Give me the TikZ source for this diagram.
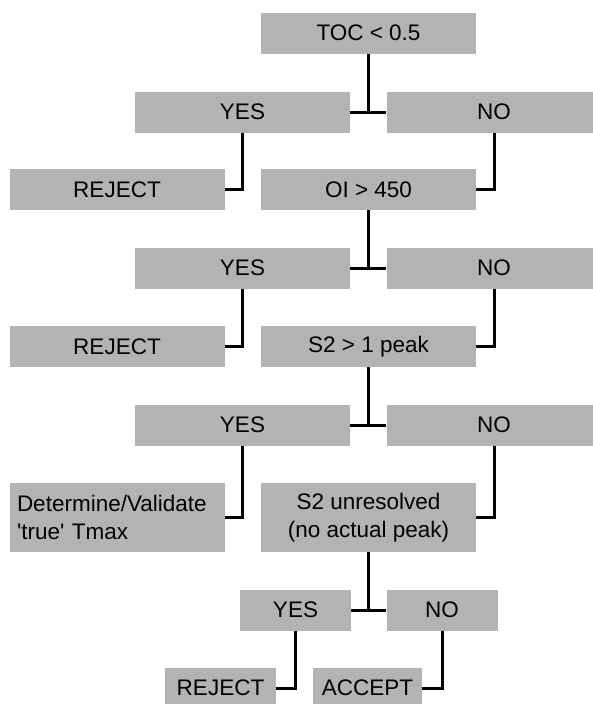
\documentclass[tikz,border=0pt]{standalone}
\usepackage{fontspec}
\setmainfont{Liberation Sans}
\definecolor{boxgray}{RGB}{179,179,179}
\begin{document}
\begin{tikzpicture}[x=1pt, y=-1pt,
  box/.style={fill=boxgray, inner sep=0pt, minimum height=41pt,
              font=\fontsize{22.5}{27.5}\selectfont},
  wide/.style={box, minimum width=215pt},
  narrow/.style={box, minimum width=111pt},
  link/.style={line width=3pt}]
\useasboundingbox (0,0) rectangle (593,704);

% decision boxes
\node[wide] (toc)  at (368.5,33)    {TOC < 0.5};
\node[wide] (yes1) at (242.5,112)   {YES};
\node[wide] (no1)  at (494,112)     {NO};
\node[wide] (rej1) at (117,189.5)   {REJECT};
\node[wide] (oi)   at (368.5,189.5) {OI > 450};
\node[wide] (yes2) at (242.5,268)   {YES};
\node[wide] (no2)  at (494,268)     {NO};
\node[wide] (rej2) at (117,346.5)   {REJECT};
\node[wide] (s2)   at (368.5,346.5) {S2 > 1 peak};
\node[wide] (yes3) at (242.5,425)   {YES};
\node[wide] (no3)  at (494,425)     {NO};
\node[wide, minimum height=69pt, text width=200pt, inner xsep=7.5pt, align=left]
  (tmax) at (117,517.5) {Determine/Validate\\\textquotesingle true\textquotesingle{} Tmax};
\node[wide, minimum height=69pt, align=center]
  (unres) at (368.5,517.5) {S2 unresolved\\(no actual peak)};
\node[narrow] (yes4) at (295.5,610) {YES};
\node[narrow] (no4)  at (442,610)   {NO};
\node[narrow] (rej3) at (220.5,688) {REJECT};
\node[narrow, minimum width=109pt] (acc) at (367.5,688) {ACCEPT};

% branches
\draw[link] (toc.south) -- (toc.south |- yes1.east);
\draw[link] (yes1.east) -- (no1.west);
\draw[link] (yes1.south) |- (rej1.east);
\draw[link] (no1.south) |- (oi.east);

\draw[link] (oi.south) -- (oi.south |- yes2.east);
\draw[link] (yes2.east) -- (no2.west);
\draw[link] (yes2.south) |- (rej2.east);
\draw[link] (no2.south) |- (s2.east);

\draw[link] (s2.south) -- (s2.south |- yes3.east);
\draw[link] (yes3.east) -- (no3.west);
\draw[link] (yes3.south) |- (tmax.east);
\draw[link] (no3.south) |- (unres.east);

\draw[link] (unres.south) -- (unres.south |- yes4.east);
\draw[link] (yes4.east) -- (no4.west);
\draw[link] (yes4.south) |- (rej3.east);
\draw[link] (no4.south) |- (acc.east);
\end{tikzpicture}
\end{document}
